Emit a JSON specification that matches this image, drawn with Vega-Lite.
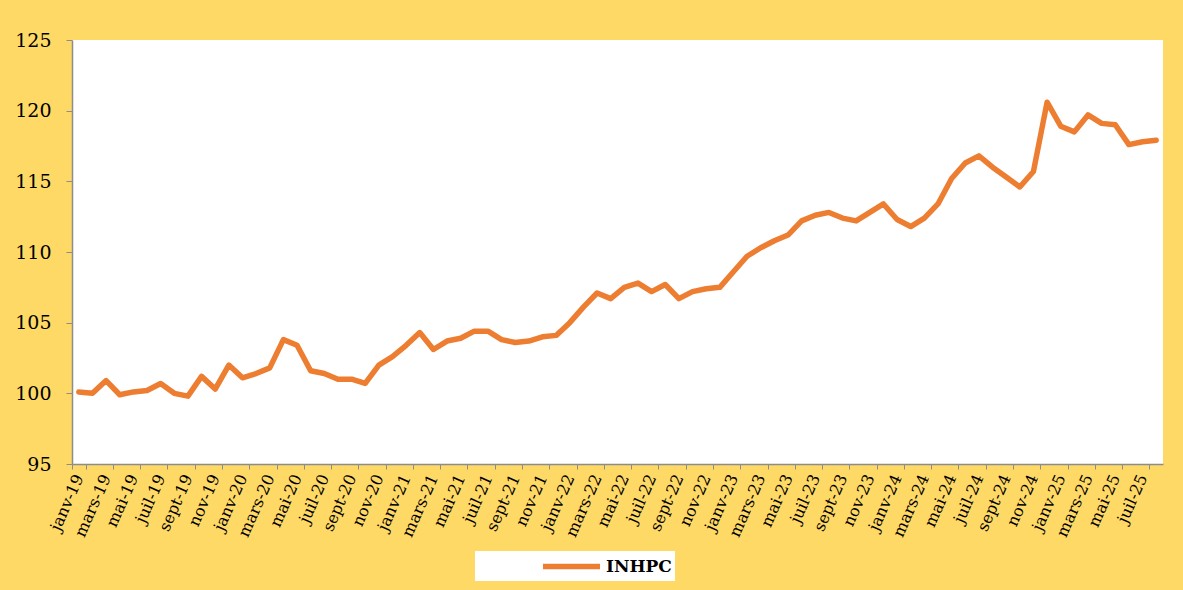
{
  "$schema": "https://vega.github.io/schema/vega-lite/v6.json",
  "autosize": {"type": "none"},
  "width": 1091,
  "height": 424,
  "padding": {"left": 72, "top": 40, "right": 20, "bottom": 126},
  "background": "#FFD966",
  "config": {
    "view": {"fill": "white", "stroke": null},
    "font": "DejaVu Serif"
  },
  "data": {
    "values": [
      {"mois": "janv-19", "v": 100.1}, {"mois": "févr-19", "v": 100.0}, {"mois": "mars-19", "v": 100.9}, {"mois": "avr-19", "v": 99.9},
      {"mois": "mai-19", "v": 100.1}, {"mois": "juin-19", "v": 100.2}, {"mois": "juil-19", "v": 100.7}, {"mois": "août-19", "v": 100.0},
      {"mois": "sept-19", "v": 99.8}, {"mois": "oct-19", "v": 101.2}, {"mois": "nov-19", "v": 100.3}, {"mois": "déc-19", "v": 102.0},
      {"mois": "janv-20", "v": 101.1}, {"mois": "févr-20", "v": 101.4}, {"mois": "mars-20", "v": 101.8}, {"mois": "avr-20", "v": 103.8},
      {"mois": "mai-20", "v": 103.4}, {"mois": "juin-20", "v": 101.6}, {"mois": "juil-20", "v": 101.4}, {"mois": "août-20", "v": 101.0},
      {"mois": "sept-20", "v": 101.0}, {"mois": "oct-20", "v": 100.7}, {"mois": "nov-20", "v": 102.0}, {"mois": "déc-20", "v": 102.6},
      {"mois": "janv-21", "v": 103.4}, {"mois": "févr-21", "v": 104.3}, {"mois": "mars-21", "v": 103.1}, {"mois": "avr-21", "v": 103.7},
      {"mois": "mai-21", "v": 103.9}, {"mois": "juin-21", "v": 104.4}, {"mois": "juil-21", "v": 104.4}, {"mois": "août-21", "v": 103.8},
      {"mois": "sept-21", "v": 103.6}, {"mois": "oct-21", "v": 103.7}, {"mois": "nov-21", "v": 104.0}, {"mois": "déc-21", "v": 104.1},
      {"mois": "janv-22", "v": 105.0}, {"mois": "févr-22", "v": 106.1}, {"mois": "mars-22", "v": 107.1}, {"mois": "avr-22", "v": 106.7},
      {"mois": "mai-22", "v": 107.5}, {"mois": "juin-22", "v": 107.8}, {"mois": "juil-22", "v": 107.2}, {"mois": "août-22", "v": 107.7},
      {"mois": "sept-22", "v": 106.7}, {"mois": "oct-22", "v": 107.2}, {"mois": "nov-22", "v": 107.4}, {"mois": "déc-22", "v": 107.5},
      {"mois": "janv-23", "v": 108.6}, {"mois": "févr-23", "v": 109.7}, {"mois": "mars-23", "v": 110.3}, {"mois": "avr-23", "v": 110.8},
      {"mois": "mai-23", "v": 111.2}, {"mois": "juin-23", "v": 112.2}, {"mois": "juil-23", "v": 112.6}, {"mois": "août-23", "v": 112.8},
      {"mois": "sept-23", "v": 112.4}, {"mois": "oct-23", "v": 112.2}, {"mois": "nov-23", "v": 112.8}, {"mois": "déc-23", "v": 113.4},
      {"mois": "janv-24", "v": 112.3}, {"mois": "févr-24", "v": 111.8}, {"mois": "mars-24", "v": 112.4}, {"mois": "avr-24", "v": 113.4},
      {"mois": "mai-24", "v": 115.2}, {"mois": "juin-24", "v": 116.3}, {"mois": "juil-24", "v": 116.8}, {"mois": "août-24", "v": 116.0},
      {"mois": "sept-24", "v": 115.3}, {"mois": "oct-24", "v": 114.6}, {"mois": "nov-24", "v": 115.7}, {"mois": "déc-24", "v": 120.6},
      {"mois": "janv-25", "v": 118.9}, {"mois": "févr-25", "v": 118.5}, {"mois": "mars-25", "v": 119.7}, {"mois": "avr-25", "v": 119.1},
      {"mois": "mai-25", "v": 119.0}, {"mois": "juin-25", "v": 117.6}, {"mois": "juil-25", "v": 117.8}, {"mois": "août-25", "v": 117.9}
    ]
  },
  "mark": {"type": "line", "strokeWidth": 5.5, "strokeJoin": "round", "strokeCap": "round"},
  "encoding": {
    "x": {
      "field": "mois",
      "type": "ordinal",
      "sort": null,
      "scale": {"type": "band", "paddingInner": 0, "paddingOuter": 0},
      "axis": {
        "title": null,
        "values": ["janv-19","mars-19","mai-19","juil-19","sept-19","nov-19","janv-20","mars-20","mai-20","juil-20","sept-20","nov-20","janv-21","mars-21","mai-21","juil-21","sept-21","nov-21","janv-22","mars-22","mai-22","juil-22","sept-22","nov-22","janv-23","mars-23","mai-23","juil-23","sept-23","nov-23","janv-24","mars-24","mai-24","juil-24","sept-24","nov-24","janv-25","mars-25","mai-25","juil-25"],
        "tickBand": "extent",
        "labelAngle": -66,
        "labelAlign": "right",
        "labelBaseline": "middle",
        "labelFontSize": 16,
        "labelColor": "black",
        "labelPadding": 6,
        "tickSize": 5,
        "tickColor": "#8C8C8C",
        "domainColor": "#8C8C8C",
        "domainWidth": 1.5,
        "labelOverlap": false
      }
    },
    "y": {
      "field": "v",
      "type": "quantitative",
      "scale": {"domain": [95, 125], "nice": false, "zero": false},
      "axis": {
        "title": null,
        "values": [95, 100, 105, 110, 115, 120, 125],
        "grid": false,
        "labelFontSize": 19,
        "labelColor": "black",
        "labelPadding": 15,
        "tickSize": 6,
        "tickColor": "#8C8C8C",
        "domainColor": "#8C8C8C",
        "domainWidth": 1.5
      }
    },
    "color": {
      "datum": "INHPC",
      "type": "nominal",
      "scale": {"range": ["#ED7D31"]},
      "legend": {
        "title": null,
        "orient": "none",
        "legendX": 403,
        "legendY": 511,
        "fillColor": "white",
        "padding": 3,
        "symbolType": "M-3,0L3,0",
        "symbolSize": 361,
        "symbolStrokeWidth": 5.5,
        "symbolOffset": 81,
        "labelFontSize": 17,
        "labelFontWeight": "bold",
        "labelColor": "black",
        "labelOffset": 22
      }
    }
  }
}
